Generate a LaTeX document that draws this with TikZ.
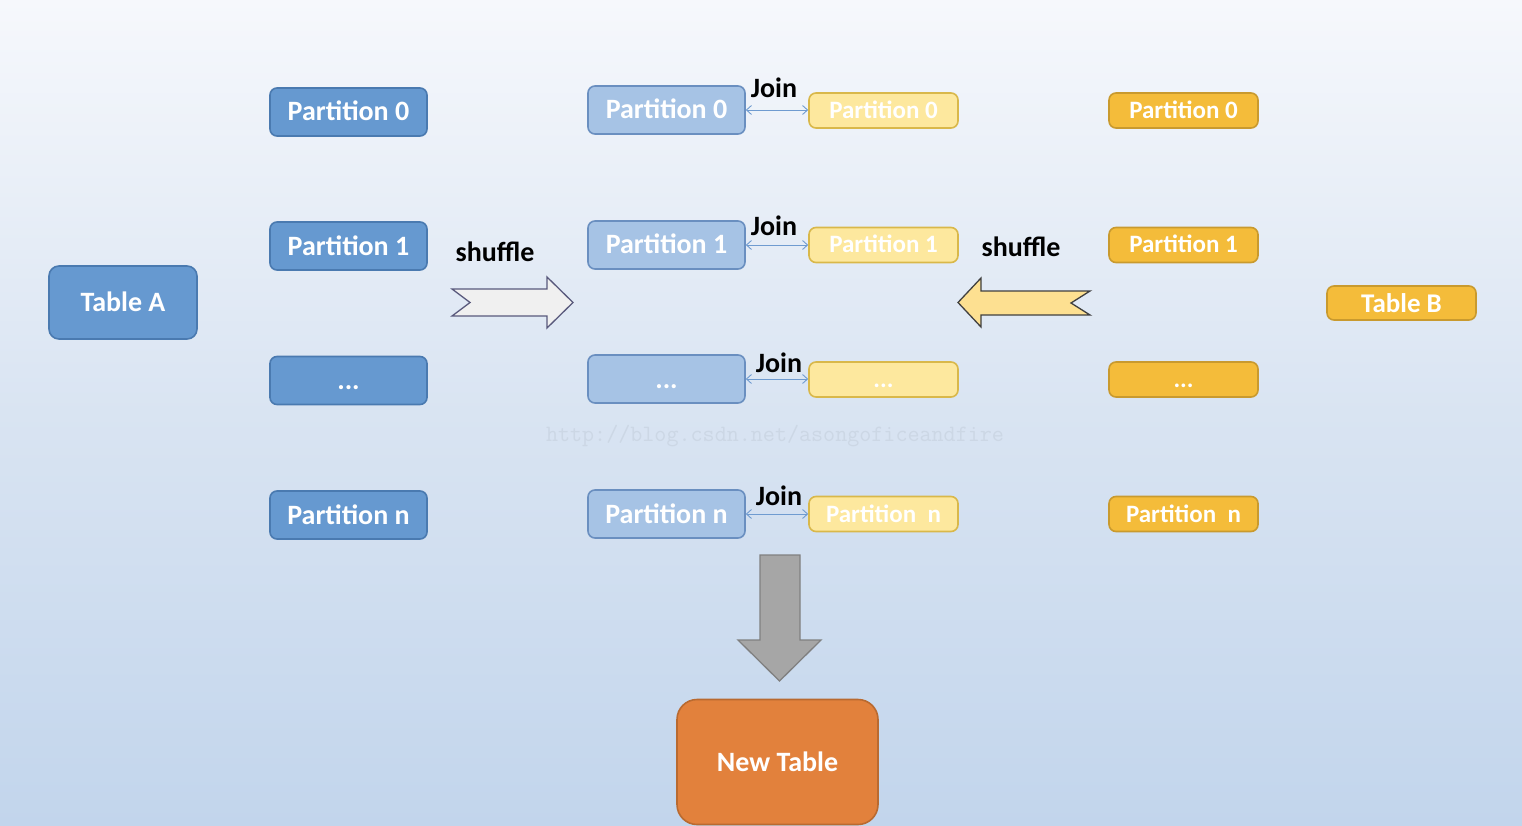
\documentclass[tikz,border=0pt]{standalone}
\usepackage{fontspec}
\setmainfont{Carlito}
\usetikzlibrary{arrows.meta}
\definecolor{bgtop}{HTML}{F6F8FC}
\definecolor{bgmid}{HTML}{D9E4F2}
\definecolor{bgbot}{HTML}{C2D5EC}
\definecolor{bluefill}{HTML}{6699D0}
\definecolor{blueline}{HTML}{4A7AB0}
\definecolor{lbluefill}{HTML}{A6C3E5}
\definecolor{lblueline}{HTML}{6A8FC0}
\definecolor{lyelfill}{HTML}{FDE89E}
\definecolor{lyelline}{HTML}{D9B84A}
\definecolor{goldfill}{HTML}{F4BC3A}
\definecolor{goldline}{HTML}{C99A2E}
\definecolor{orfill}{HTML}{E2813C}
\definecolor{orline}{HTML}{B96A30}
\definecolor{joinc}{HTML}{6F9BD0}
\definecolor{wmark}{HTML}{CCD7E5}
\tikzset{
  box/.style={rounded corners=7pt, inner sep=0pt, line width=1.6pt, text=white, text height=18pt, text depth=0pt, font=\fontsize{28}{30}\selectfont\bfseries},
  bluebox/.style={box, fill=bluefill, draw=blueline, minimum width=157pt, minimum height=48pt},
  lbluebox/.style={box, fill=lbluefill, draw=lblueline, minimum width=157pt, minimum height=48pt},
  lyelbox/.style={box, fill=lyelfill, draw=lyelline, minimum width=149pt, minimum height=35pt, text height=16pt, font=\fontsize{25}{27}\selectfont\bfseries},
  goldbox/.style={box, fill=goldfill, draw=goldline, minimum width=149pt, minimum height=35pt, text height=16pt, font=\fontsize{25}{27}\selectfont\bfseries},
  lbl/.style={inner sep=0pt, font=\fontsize{28}{30}\selectfont\bfseries, text=black},
  joinarrow/.style={draw=joinc, line width=0.9pt, {Straight Barb[length=5pt,width=9pt]}-{Straight Barb[length=5pt,width=9pt]}},
  blockarrow/.style={line width=1.3pt, line join=miter}
}
\begin{document}
\begin{tikzpicture}[x=1pt,y=-1pt]
\useasboundingbox (0,0) rectangle (1522,826);
\shade[top color=bgtop, bottom color=bgbot, middle color=bgmid] (0,0) rectangle (1522,826);

% watermark
\node[inner sep=0pt, text=wmark, font=\ttfamily\fontsize{23.4}{25}\selectfont] (wm) at (775,436) {http://blog.csdn.net/asongoficeandfire};

% Table A and its partitions
\node[bluebox, minimum width=148pt, minimum height=73pt, rounded corners=10pt] (TA) at (123,302.5) {Table A};
\node[bluebox] (A0) at (348.5,112) {Partition 0};
\node[bluebox] (A1) at (348.5,246) {Partition 1};
\node[bluebox] (A2) at (348.5,380.5) {...};
\node[bluebox] (An) at (348.5,515) {Partition n};

% shuffled A partitions
\node[lbluebox] (M0) at (666.5,110) {Partition 0};
\node[lbluebox] (M1) at (666.5,245) {Partition 1};
\node[lbluebox] (M2) at (666.5,379) {...};
\node[lbluebox] (Mn) at (666.5,514) {Partition n};

% shuffled B partitions
\node[lyelbox] (Y0) at (883.5,110.5) {Partition 0};
\node[lyelbox] (Y1) at (883.5,245) {Partition 1};
\node[lyelbox] (Y2) at (883.5,379.5) {...};
\node[lyelbox] (Yn) at (883.5,514) {Partition\ \ n};

% Table B partitions
\node[goldbox] (B0) at (1183.5,110.5) {Partition 0};
\node[goldbox] (B1) at (1183.5,245) {Partition 1};
\node[goldbox] (B2) at (1183.5,379.5) {...};
\node[goldbox] (Bn) at (1183.5,514) {Partition\ \ n};
\node[goldbox, minimum height=34pt, text height=18pt, font=\fontsize{27}{29}\selectfont\bfseries] (TB) at (1401.5,303) {Table B};

% result
\node[box, fill=orfill, draw=orline, minimum width=201pt, minimum height=125pt, rounded corners=20pt] (NT) at (777.5,762) {New Table};

% join arrows
\draw[joinarrow] (M0.east) -- (M0.east -| Y0.west);
\draw[joinarrow] (M1.east) -- (M1.east -| Y1.west);
\draw[joinarrow] (M2.east) -- (M2.east -| Y2.west);
\draw[joinarrow] (Mn.east) -- (Mn.east -| Yn.west);
\node[lbl] (J0) at (774,88) {Join};
\node[lbl] (J1) at (774,226) {Join};
\node[lbl] (J2) at (779,363) {Join};
\node[lbl] (Jn) at (779,496) {Join};

% shuffle labels
\node[lbl] (S1) at (495,252) {shuffle};
\node[lbl] (S2) at (1021,247) {shuffle};

% block arrows
\draw[blockarrow, fill=black!6, draw=black!55!blue!30!gray] (452,289) -- (547,289) -- (547,277) -- (573,302.5) -- (547,328) -- (547,316) -- (452,316) -- (470,302.5) -- cycle;
\draw[blockarrow, fill=lyelfill!92!orange, draw=black!50!gray] (958,302.5) -- (981,278) -- (981,291) -- (1090,291) -- (1071,303) -- (1090,315) -- (981,315) -- (981,327) -- cycle;
\draw[blockarrow, fill=black!35, draw=black!50] (760,555) -- (800,555) -- (800,640) -- (821,640) -- (779.5,681) -- (738,640) -- (760,640) -- cycle;
\end{tikzpicture}
\end{document}
